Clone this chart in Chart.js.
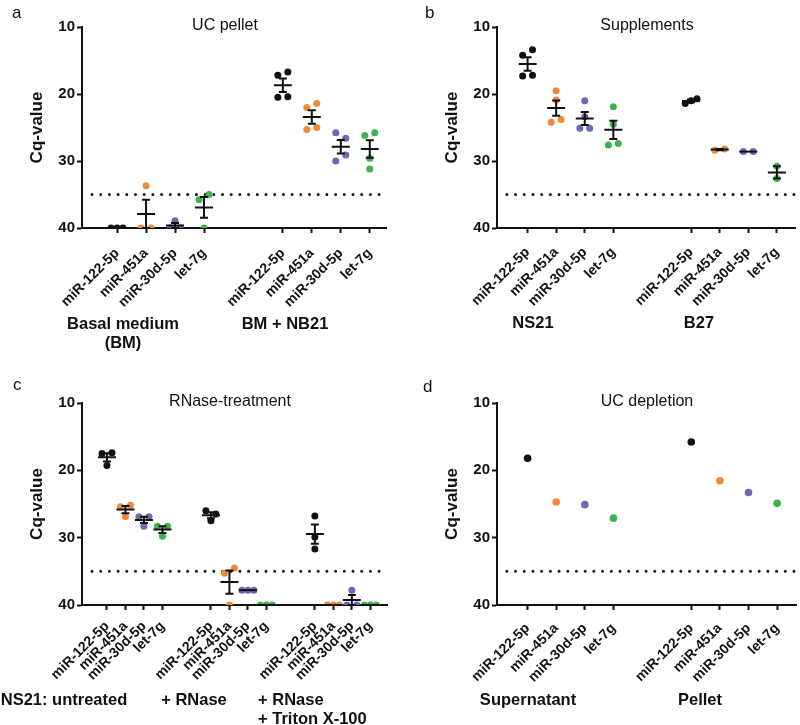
<!DOCTYPE html>
<html>
<head>
<meta charset="utf-8">
<script src="https://cdn.jsdelivr.net/npm/chart.js@4.4.0/dist/chart.umd.min.js"></script>
<style>
  body { margin: 0; background: #fff; }
  #wrap { position: relative; width: 800px; height: 725px; }
  canvas { position: absolute; }
</style>
</head>
<body>
<div id="wrap">
  <canvas id="pa" width="400" height="362" style="left:0;top:0"></canvas>
  <canvas id="pb" width="400" height="362" style="left:400px;top:0"></canvas>
  <canvas id="pc" width="400" height="363" style="left:0;top:362px"></canvas>
  <canvas id="pd" width="400" height="363" style="left:400px;top:362px"></canvas>
</div>
<script>
// ---- data (Cq-values) ----
const mirnas = ["miR-122-5p", "miR-451a", "miR-30d-5p", "let-7g"];
const mirColors = ["#111111", "#EE8A3A", "#6B68B4", "#3DB44C"];
const cutoff = 35;

// a: UC pellet
const aGroups = [["Basal medium", "(BM)"], ["BM + NB21"]];
const aBasal = [[40, 40, 40], [33.7, 40, 40], [38.9, 40, 40], [35.8, 35.0, 40]];
const aNB21 = [[17.2, 16.7, 20.5, 20.4], [22.0, 21.4, 25.3, 25.0], [25.8, 26.6, 30.0, 29.1], [26.2, 25.8, 29.6, 31.2]];

// b: Supplements
const bGroups = [["NS21"], ["B27"]];
const bNS21 = [[14.2, 13.4, 17.3, 17.2], [19.5, 20.9, 24.2, 23.8], [21.0, 23.4, 25.1, 25.1], [21.9, 24.5, 27.6, 27.4]];
const bB27 = [[21.4, 21.0, 20.7], [28.4, 28.2], [28.6, 28.6], [30.8, 32.6]];

// c: RNase-treatment
const cGroups = [["NS21: untreated"], ["+ RNase"], ["+ RNase", "+ Triton X-100"]];
const cUntreated = [[17.5, 17.4, 19.3], [25.4, 25.2, 26.9], [26.9, 26.9, 28.3], [28.3, 28.3, 29.8]];
const cRNase = [[26.0, 26.5, 27.5], [35.3, 34.5, 40], [37.8, 37.8, 37.8], [40, 40, 40]];
const cTriton = [[26.8, 29.9, 31.7], [40, 40, 40], [37.8, 40, 40], [40, 40, 40]];

// d: UC depletion
const dGroups = [["Supernatant"], ["Pellet"]];
const dSupernatant = [18.2, 24.7, 25.1, 27.1];
const dPellet = [15.8, 21.55, 23.3, 24.9];

// ---- layout of each panel ----
const panels = [
  { id: "pa", letter: "a", letterX: 12, letterY: 18, title: "UC pellet", titleX: 225,
    groups: [aBasal, aNB21], groupNames: aGroups, groupStart: [1, 6.72],
    xMin: -0.21, xMax: 10.28, pxUnit: 29, top: 27, axisW: 82, right: 14, xAxisH: 134, tickPad: 12,
    labels: [{ x: 123, align: "center" }, { x: 285, align: "center" }], labelY: 324 },
  { id: "pb", letter: "b", letterX: 25, letterY: 18, title: "Supplements", titleX: 247,
    groups: [bNS21, bB27], groupNames: bGroups, groupStart: [1, 6.72],
    xMin: -0.07, xMax: 10.38, pxUnit: 29, top: 27, axisW: 97, right: 0, xAxisH: 134, tickPad: 11,
    labels: [{ x: 133, align: "center" }, { x: 299, align: "center" }], labelY: 323 },
  { id: "pc", letter: "c", letterX: 13, letterY: 28, title: "RNase-treatment", titleX: 230,
    groups: [cUntreated, cRNase, cTriton], groupNames: cGroups, groupStart: [1, 6.62, 12.24],
    xMin: -0.35, xMax: 16.14, pxUnit: 18.5, top: 41, axisW: 82, right: 13, xAxisH: 120, tickPad: 8,
    labels: [{ x: 64, align: "center" }, { x: 194, align: "center" }, { x: 258, align: "left" }], labelY: 338 },
  { id: "pd", letter: "d", letterX: 23, letterY: 30, title: "UC depletion", titleX: 247,
    groups: [dSupernatant.map(v => [v]), dPellet.map(v => [v])], groupNames: dGroups, groupStart: [1, 6.72],
    xMin: -0.07, xMax: 10.38, pxUnit: 29, top: 41, axisW: 97, right: 0, xAxisH: 120, tickPad: 10,
    labels: [{ x: 128, align: "center" }, { x: 300, align: "center" }], labelY: 338 }
];

Chart.defaults.font.family = "'Liberation Sans', Arial, sans-serif";
Chart.defaults.color = "#111";

// spread overlapping points sideways, like a column scatter
function swarm(vals, s2, s3) {
  const idx = vals.map((v, i) => i).sort((i, j) => vals[i] - vals[j]);
  const off = new Array(vals.length).fill(0);
  let cl = [idx[0]];
  const flush = () => {
    const k = cl.length;
    if (k < 2) return;
    cl.sort((i, j) => i - j);
    const step = k === 2 ? s2 : s3;
    cl.forEach((i, n) => { off[i] = (n - (k - 1) / 2) * step; });
  };
  for (let n = 1; n < idx.length; n++) {
    if (vals[idx[n]] - vals[idx[n - 1]] < 1) cl.push(idx[n]);
    else { flush(); cl = [idx[n]]; }
  }
  flush();
  return off;
}

function meanSem(vals) {
  const n = vals.length;
  const m = vals.reduce((a, b) => a + b, 0) / n;
  if (n < 2) return { m, s: 0 };
  const sd = Math.sqrt(vals.reduce((a, b) => a + (b - m) * (b - m), 0) / (n - 1));
  return { m, s: sd / Math.sqrt(n) };
}

function makePanel(p) {
  const tickPos = [], tickLbl = [];
  p.groups.forEach((g, gi) => mirnas.forEach((name, m) => {
    tickPos.push(p.groupStart[gi] + m);
    tickLbl.push(name);
  }));

  const datasets = mirnas.map((name, m) => {
    const pts = [];
    p.groups.forEach((g, gi) => {
      const off = swarm(g[m], 10 / p.pxUnit, 6 / p.pxUnit);
      g[m].forEach((v, i) => pts.push({ x: p.groupStart[gi] + m + off[i], y: v }));
    });
    return {
      label: name, data: pts,
      pointBackgroundColor: mirColors[m], pointBorderWidth: 0,
      pointRadius: p.id === "pd" ? 3.8 : 3.5, showLine: false
    };
  });

  datasets.push({
    label: "cutoff",
    data: [{ x: p.xMin + 10 / p.pxUnit, y: cutoff }, { x: p.xMax, y: cutoff }],
    showLine: true, pointRadius: 0, borderColor: "#111", borderWidth: 3,
    borderDash: [0, 8.7], borderCapStyle: "round"
  });

  const deco = {
    id: "deco",
    afterDatasetsDraw(chart) {
      const ctx = chart.ctx, xs = chart.scales.x, ys = chart.scales.y;
      ctx.save();
      ctx.strokeStyle = "#111";
      ctx.lineWidth = 2;
      p.groups.forEach((g, gi) => g.forEach((vals, m) => {
        if (vals.length < 2) return;
        const st = meanSem(vals);
        const px = xs.getPixelForValue(p.groupStart[gi] + m);
        const pm = ys.getPixelForValue(st.m);
        const p1 = ys.getPixelForValue(st.m - st.s);
        const p2 = ys.getPixelForValue(st.m + st.s);
        ctx.beginPath();
        ctx.moveTo(px - 9, pm); ctx.lineTo(px + 9, pm);
        if (st.s > 0) {
          ctx.moveTo(px, p1); ctx.lineTo(px, p2);
          ctx.moveTo(px - 4, p1); ctx.lineTo(px + 4, p1);
          ctx.moveTo(px - 4, p2); ctx.lineTo(px + 4, p2);
        }
        ctx.stroke();
      }));
      ctx.restore();
    },
    afterDraw(chart) {
      const ctx = chart.ctx, ca = chart.chartArea;
      ctx.save();
      ctx.fillStyle = "#111";
      ctx.textBaseline = "alphabetic";
      ctx.textAlign = "left";
      ctx.font = "17px 'Liberation Sans', Arial, sans-serif";
      ctx.fillText(p.letter, p.letterX, p.letterY);

      ctx.textAlign = "center";
      ctx.textBaseline = "middle";
      ctx.font = "16px 'Liberation Sans', Arial, sans-serif";
      ctx.fillText(p.title, p.titleX, ca.top - 1);

      ctx.save();
      ctx.translate(ca.left - 45, (ca.top + ca.bottom) / 2);
      ctx.rotate(-Math.PI / 2);
      ctx.font = "bold 17px 'Liberation Sans', Arial, sans-serif";
      ctx.fillText("Cq-value", 0, 0);
      ctx.restore();

      ctx.font = "bold 16.5px 'Liberation Sans', Arial, sans-serif";
      p.groupNames.forEach((lines, gi) => {
        const l = p.labels[gi];
        ctx.textAlign = l.align;
        lines.forEach((t, k) => ctx.fillText(t, l.x, p.labelY + k * 19));
      });
      ctx.restore();
    }
  };

  new Chart(document.getElementById(p.id), {
    type: "scatter",
    data: { datasets },
    options: {
      responsive: false,
      animation: false,
      layout: { padding: { top: p.top, right: p.right, left: 0, bottom: 0 } },
      plugins: { legend: { display: false }, tooltip: { enabled: false } },
      scales: {
        x: {
          type: "linear", min: p.xMin, max: p.xMax, bounds: "data",
          afterBuildTicks: (s) => { s.ticks = tickPos.map(v => ({ value: v })); },
          afterFit: (s) => { s.height = p.xAxisH; },
          ticks: {
            autoSkip: false, maxRotation: 45, minRotation: 45, padding: p.tickPad,
            font: { size: 14, weight: "bold" }, color: "#111",
            callback: (v, i) => tickLbl[i]
          },
          grid: { drawOnChartArea: false, drawTicks: true, tickLength: 5, tickWidth: 2, tickColor: "#111" },
          border: { display: true, color: "#111", width: 2 }
        },
        y: {
          type: "linear", reverse: true, min: 10, max: 40,
          afterFit: (s) => { s.width = p.axisW; },
          ticks: { stepSize: 10, padding: 2, font: { size: 15, weight: "bold" }, color: "#111" },
          grid: { drawOnChartArea: false, drawTicks: true, tickLength: 5, tickWidth: 2, tickColor: "#111" },
          border: { display: true, color: "#111", width: 2 }
        }
      }
    },
    plugins: [deco]
  });
}

panels.forEach(makePanel);
</script>
</body>
</html>
